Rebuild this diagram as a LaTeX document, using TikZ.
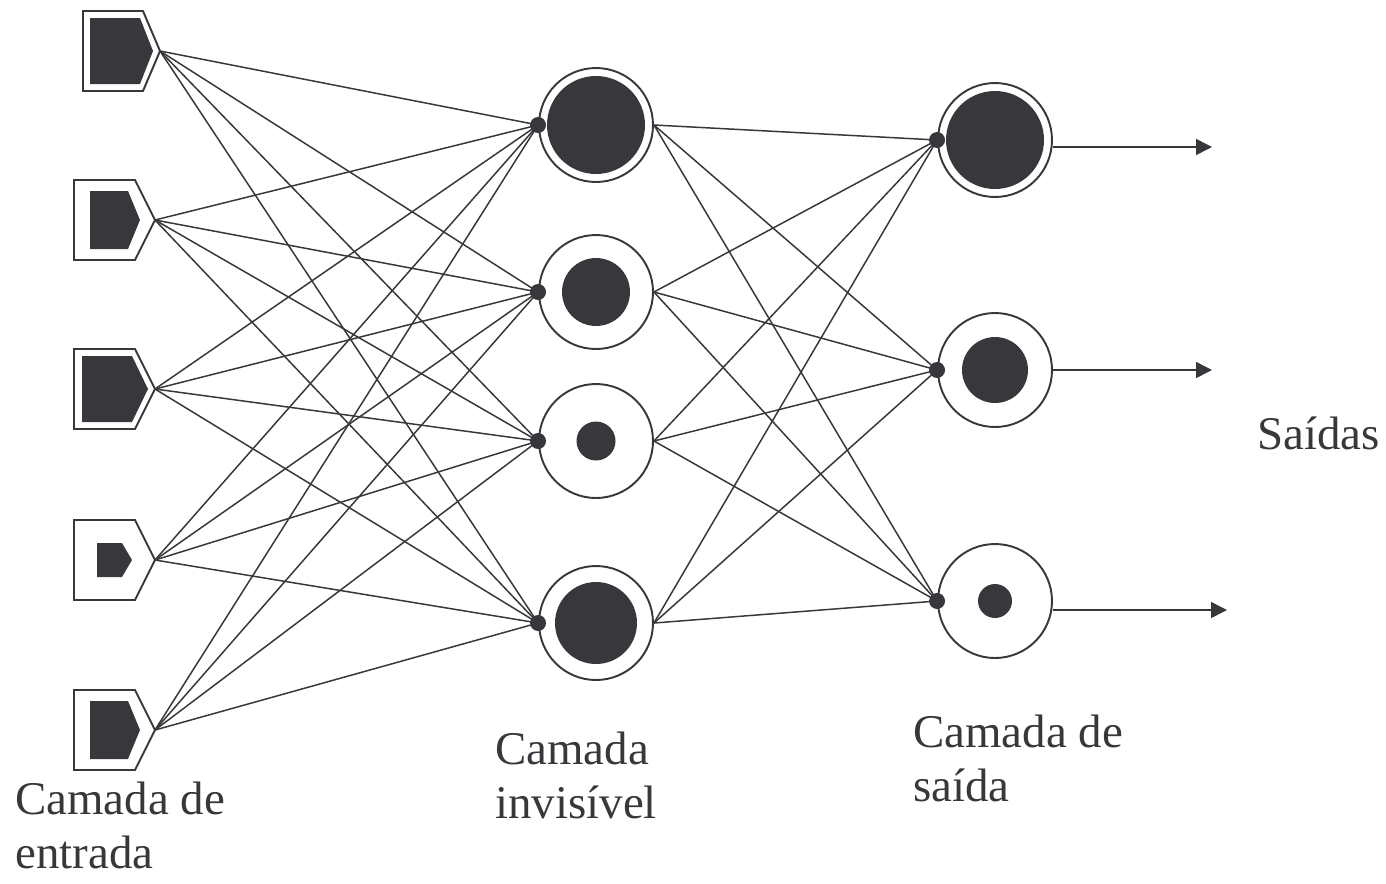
\documentclass[tikz,border=0pt]{standalone}
\usepackage{fontspec}
\setmainfont{Liberation Serif}
\usepackage{tikz}
\usetikzlibrary{arrows.meta,positioning}
\definecolor{inkgray}{HTML}{38383C}

\begin{document}
\begin{tikzpicture}[x=0.02cm, y=-0.02cm,
    cell/.style={circle, draw=inkgray, line width=1.1pt, minimum size=2.28cm, inner sep=0pt},
    core/.style={circle, fill=inkgray, inner sep=0pt, minimum size=#1},
    joint/.style={circle, fill=inkgray, inner sep=0pt, minimum size=0.32cm},
    wire/.style={draw=inkgray, line width=0.85pt},
    layertext/.style={inkgray, align=left, inner sep=0pt, font=\fontsize{26.7}{30.5}\selectfont}
]
\useasboundingbox (0,0) rectangle (1386,883);
% Input layer
\foreach \n/\l/\r/\t/\y/\il/\ir/\it/\ih in {1/83/143/160/51/90/140/153/33,
    2/74/135/155/220/90/128/140/29, 3/74/135/155/389/82/132/148/33,
    4/74/135/155/560/97/122/132/17, 5/74/135/155/730/90/128/140/29} {
    \draw[inkgray, line width=1.1pt] (\l,\y-40) -- (\r,\y-40) -- (\t,\y) -- (\r,\y+40) -- (\l,\y+40) -- cycle;
    \fill[inkgray] (\il,\y-\ih) -- (\ir,\y-\ih) -- (\it,\y) -- (\ir,\y+\ih) -- (\il,\y+\ih) -- cycle;
    \coordinate (in\n) at (\t,\y);
}
% Hidden layer
\foreach \n/\y/\s in {1/125/1.96cm, 2/292/1.36cm, 3/441/0.78cm, 4/623/1.64cm} {
    \node[cell] (h\n) at (596,\y) {};
    \node[core=\s] (hc\n) at (h\n) {};
}
% Output layer
\foreach \n/\y/\s in {1/140/1.96cm, 2/370/1.32cm, 3/601/0.68cm} {
    \node[cell] (o\n) at (995,\y) {};
    \node[core=\s] (oc\n) at (o\n) {};
}
% Connections
\foreach \i in {1,...,5} {
    \foreach \j in {1,...,4} {
        \draw[wire] (in\i) -- (h\j.west);
    }
}
\foreach \j in {1,...,4} {
    \foreach \k in {1,2,3} {
        \draw[wire] (h\j.east) -- (o\k.west);
    }
}
\foreach \j in {1,...,4} {
    \node[joint] (hd\j) at (h\j.west) {};
}
\foreach \k in {1,2,3} {
    \node[joint] (od\k) at (o\k.west) {};
}
% Outputs
\coordinate (out1) at (1212,147);
\coordinate (out2) at (1212,370);
\coordinate (out3) at (1227,610);
\foreach \k in {1,2,3} {
    \draw[wire, -{Triangle[length=0.32cm, width=0.32cm]}] (o\k.east |- out\k) -- (out\k);
}
% Labels (base = last line)
\node[layertext, anchor=base west] (inlabel) at (15,868) {Camada de\\entrada};
\node[layertext, anchor=base west] (hidlabel) at (495,818) {Camada\\invisível};
\node[layertext, anchor=base west] (outlabel) at (913,801) {Camada de\\saída};
\node[layertext, anchor=base west] (reslabel) at (1257,449) {Saídas};
\end{tikzpicture}
\end{document}
